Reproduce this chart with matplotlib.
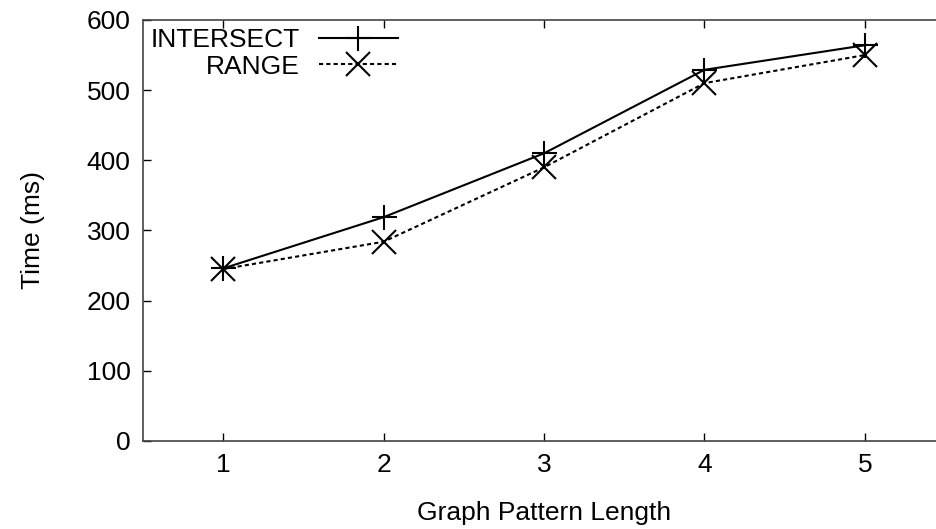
import matplotlib
matplotlib.use("Agg")
import matplotlib.pyplot as plt

# pattern lengths and query times (ms)
lengths = [1, 2, 3, 4, 5]
intersect = [246, 319, 410, 529, 564]
range_t = [245, 284, 390, 510, 550]
yticks = [0, 100, 200, 300, 400, 500, 600]

plt.rcParams['font.family'] = ['Liberation Sans', 'DejaVu Sans']
plt.rcParams['font.size'] = 19

fig = plt.figure(figsize=(9.37, 5.29), dpi=100)
ax = fig.add_axes([143 / 937, 1 - 441 / 529, 802 / 937, 421 / 529])

ax.plot(lengths, intersect, color='black', lw=1.5, marker='+', ms=18,
        mew=1.5, label='INTERSECT')
ax.plot(lengths, range_t, color='black', lw=1.5, ls=(0, (2, 1.5)),
        marker='x', ms=17, mew=1.5, label='RANGE')

ax.set_xlim(0.5, 5.5)
ax.set_ylim(0, 600)
ax.set_xticks(lengths)
ax.set_yticks(yticks)
ax.tick_params(direction='in', length=6, width=1, top=True, right=True,
               pad=9, colors='black')
for s in ax.spines.values():
    s.set_color('#444444')
    s.set_linewidth(1.2)

ax.set_xlabel('Graph Pattern Length', labelpad=17)
ax.set_ylabel('Time (ms)', labelpad=30)

ax.legend(loc='upper left', bbox_to_anchor=(151 / 937, 1 - 28 / 529),
          bbox_transform=fig.transFigure, frameon=False, markerfirst=False,
          alignment='right', handlelength=3.0, handletextpad=0.7,
          labelspacing=0.1, borderpad=0, borderaxespad=0)

fig.savefig('out.png', dpi=100)
